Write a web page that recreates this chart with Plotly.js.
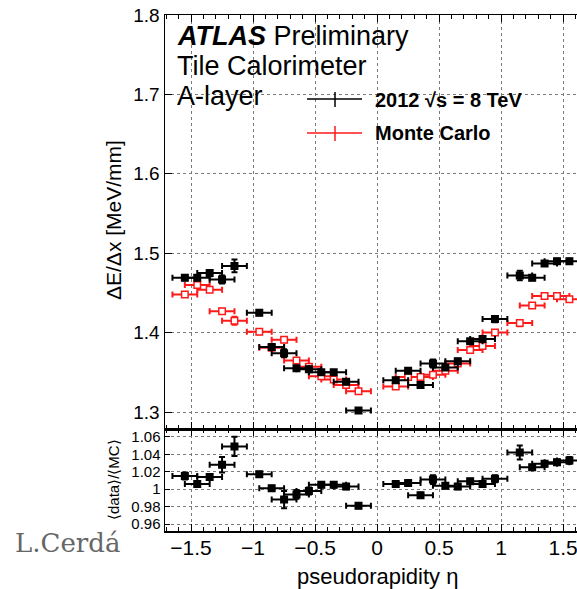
<!DOCTYPE html>
<html>
<head>
<meta charset="utf-8">
<script src="https://cdn.plot.ly/plotly-3.0.1.min.js"></script>
<style>
html,body{margin:0;padding:0;overflow:hidden;background:#fff;}
#chart{width:600px;height:589px;}
</style>
</head>
<body>
<div id="chart"></div>
<script>
// ---- data ----
const eta = [-1.55,-1.45,-1.35,-1.25,-1.15,-0.95,-0.85,-0.75,-0.65,-0.55,-0.45,-0.35,-0.25,-0.15,
             0.15,0.25,0.35,0.45,0.55,0.65,0.75,0.85,0.95,1.15,1.25,1.35,1.45,1.55];
const dataVal = [1.469,1.469,1.475,1.467,1.484,1.425,1.382,1.374,1.355,1.354,1.350,1.350,1.338,1.302,
                 1.340,1.352,1.334,1.361,1.356,1.364,1.389,1.392,1.417,1.472,1.469,1.487,1.490,1.490];
const dataErr = [0.003,0.003,0.004,0.005,0.008,0.003,0.003,0.005,0.003,0.003,0.003,0.003,0.003,0.003,
                 0.003,0.003,0.003,0.005,0.003,0.003,0.003,0.003,0.004,0.006,0.003,0.003,0.003,0.003];
const mcVal = [1.448,1.460,1.454,1.427,1.415,1.401,1.381,1.391,1.365,1.357,1.345,1.341,1.334,1.326,
               1.332,1.344,1.344,1.347,1.352,1.361,1.378,1.383,1.400,1.412,1.434,1.446,1.446,1.442];
const mcErr = [0.003,0.003,0.003,0.003,0.005,0.003,0.003,0.003,0.003,0.003,0.003,0.003,0.003,0.003,
               0.003,0.003,0.003,0.003,0.003,0.003,0.003,0.003,0.003,0.004,0.003,0.003,0.003,0.003];
const ratioVal = [1.015,1.006,1.014,1.028,1.049,1.017,1.001,0.988,0.994,0.998,1.005,1.005,1.003,0.981,
                  1.006,1.007,0.993,1.011,1.004,1.003,1.009,1.006,1.012,1.042,1.025,1.029,1.031,1.033];
const ratioErr = [0.004,0.003,0.003,0.009,0.011,0.003,0.003,0.010,0.005,0.004,0.003,0.003,0.003,0.003,
                  0.003,0.003,0.003,0.005,0.003,0.003,0.003,0.003,0.004,0.008,0.003,0.003,0.003,0.004];
const etaHalfWidth = 0.1;
const xTicks = [-1.5,-1,-0.5,0,0.5,1,1.5];
const xTickText = ['\u22121.5','\u22121','\u22120.5','0','0.5','1','1.5'];
const yTopTicks = [1.3,1.4,1.5,1.6,1.7,1.8];
const yTopTickText = ['1.3','1.4','1.5','1.6','1.7','1.8'];
const yRatioTicks = [0.96,0.98,1.0,1.02,1.04,1.06];
const yRatioTickText = ['0.96','0.98','1','1.02','1.04','1.06'];

const FONT = 'Liberation Sans, Arial, Helvetica, sans-serif';
const RED = '#ff1a1a';

function errTrace(x, y, ey, xa, ya, color, fill, name) {
  return {
    x: x, y: y, xaxis: xa, yaxis: ya, type: 'scatter', mode: 'markers', name: name,
    showlegend: false, cliponaxis: true,
    marker: {symbol: 'square', size: 6.5, color: fill, line: {color: color, width: 1.5}},
    error_y: {type: 'data', array: ey, visible: true, color: color, thickness: 2, width: 3},
    error_x: {type: 'constant', value: etaHalfWidth, visible: true, color: color, thickness: 2, width: 3}
  };
}

const traces = [
  errTrace(eta, mcVal, mcErr, 'x2', 'y2', RED, '#ffffff', 'Monte Carlo'),
  errTrace(eta, dataVal, dataErr, 'x2', 'y2', '#000', '#000', '2012'),
  errTrace(eta, ratioVal, ratioErr, 'x', 'y', '#000', '#000', 'ratio')
];

const L = 165, R = 588, T = 15, B = 531;
const W = R - L, H = B - T;
const px = v => (v - L) / W;
const py = v => (B - v) / H;
const split = py(429);

const common = {
  showline: true, linecolor: '#000', linewidth: 1.5, mirror: 'allticks',
  ticks: 'inside', ticklen: 7, tickwidth: 1, tickcolor: '#000',
  showgrid: true, gridcolor: '#7a7a7a', griddash: 'dot', gridwidth: 1,
  zeroline: false, tickfont: {family: FONT, size: 19, color: '#000'}
};

const layout = {
  width: 600, height: 589,
  margin: {l: L, r: 600 - R, t: T, b: 589 - B},
  paper_bgcolor: '#fff', plot_bgcolor: '#fff',
  showlegend: false,
  xaxis: Object.assign({}, common, {
    domain: [0, 1], anchor: 'y', range: [-1.71, 1.70],
    tickvals: xTicks, ticktext: xTickText, ticklabelstandoff: -3,
    tickfont: {family: FONT, size: 21, color: '#000'},
    minor: {dtick: 0.1, ticks: 'inside', ticklen: 4, tickcolor: '#000', showgrid: false}
  }),
  yaxis: Object.assign({}, common, {
    domain: [0, split], anchor: 'x', range: [0.952, 1.069],
    tickvals: yRatioTicks, ticktext: yRatioTickText, ticklen: 5,
    tickfont: {family: FONT, size: 15, color: '#000'}
  }),
  xaxis2: Object.assign({}, common, {
    domain: [0, 1], anchor: 'y2', range: [-1.71, 1.70], matches: 'x',
    tickvals: xTicks, showticklabels: false,
    minor: {dtick: 0.1, ticks: 'inside', ticklen: 4, tickcolor: '#000', showgrid: false}
  }),
  yaxis2: Object.assign({}, common, {
    domain: [split, 1], anchor: 'x2', range: [1.2786, 1.8],
    tickvals: yTopTicks, ticktext: yTopTickText,
    tickfont: {family: FONT, size: 19, color: '#000'}
  }),
  annotations: [
    {xref: 'paper', yref: 'paper', x: px(175), y: py(36), xanchor: 'left', yanchor: 'middle', showarrow: false,
     text: '<b><i>ATLAS</i></b> Preliminary', font: {family: FONT, size: 27, color: '#000'}},
    {xref: 'paper', yref: 'paper', x: px(175), y: py(66), xanchor: 'left', yanchor: 'middle', showarrow: false,
     text: 'Tile Calorimeter', font: {family: FONT, size: 27, color: '#000'}},
    {xref: 'paper', yref: 'paper', x: px(175), y: py(96), xanchor: 'left', yanchor: 'middle', showarrow: false,
     text: 'A-layer', font: {family: FONT, size: 27, color: '#000'}},
    {xref: 'paper', yref: 'paper', x: px(373), y: py(100), xanchor: 'left', yanchor: 'middle', showarrow: false,
     text: '<b>2012 \u221As = 8 TeV</b>', font: {family: FONT, size: 20, color: '#000'}},
    {xref: 'paper', yref: 'paper', x: px(373), y: py(133), xanchor: 'left', yanchor: 'middle', showarrow: false,
     text: '<b>Monte Carlo</b>', font: {family: FONT, size: 20, color: '#000'}},
    {xref: 'paper', yref: 'paper', x: px(113), y: py(220), xanchor: 'center', yanchor: 'middle', showarrow: false,
     textangle: -90, text: '\u0394E/\u0394x [MeV/mm]', font: {family: FONT, size: 21, color: '#000'}},
    {xref: 'paper', yref: 'paper', x: px(113), y: py(480), xanchor: 'center', yanchor: 'middle', showarrow: false,
     textangle: -90, text: '\u27E8data\u27E9/\u27E8MC\u27E9', font: {family: FONT, size: 15, color: '#000'}},
    {xref: 'paper', yref: 'paper', x: px(377), y: py(576), xanchor: 'center', yanchor: 'middle', showarrow: false,
     text: 'pseudorapidity \u03B7', font: {family: FONT, size: 22, color: '#000'}},
    {xref: 'paper', yref: 'paper', x: px(13), y: py(543), xanchor: 'left', yanchor: 'middle', showarrow: false,
     text: 'L.Cerd\u00E1', font: {family: 'DejaVu Serif, Liberation Serif, serif', size: 26, color: '#666'}}
  ],
  shapes: [
    {type: 'line', xref: 'paper', yref: 'paper', x0: px(307), x1: px(362), y0: py(99), y1: py(99), line: {color: '#000', width: 1.5}},
    {type: 'line', xref: 'paper', yref: 'paper', x0: px(335), x1: px(335), y0: py(92), y1: py(107), line: {color: '#000', width: 1.5}},
    {type: 'line', xref: 'paper', yref: 'paper', x0: px(307), x1: px(362), y0: py(133), y1: py(133), line: {color: RED, width: 1.5}},
    {type: 'line', xref: 'paper', yref: 'paper', x0: px(335), x1: px(335), y0: py(126), y1: py(141), line: {color: RED, width: 1.5}}
  ]
};

Plotly.newPlot('chart', traces, layout, {staticPlot: true, displayModeBar: false});
</script>
</body>
</html>
